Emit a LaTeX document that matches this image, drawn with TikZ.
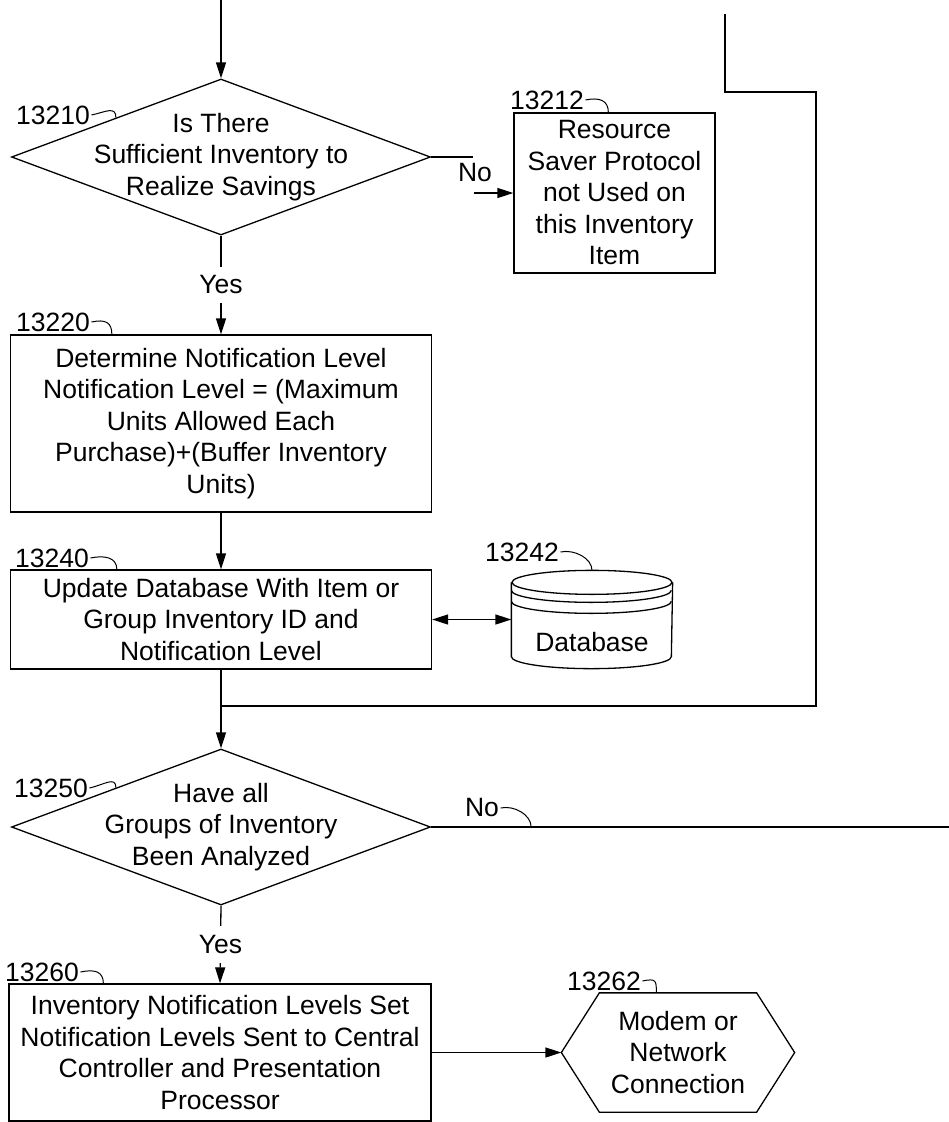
\documentclass[tikz,border=0pt]{standalone}
\usepackage{fontspec}
\setmainfont{Liberation Sans}
\usepackage{tikz}
\usetikzlibrary{arrows.meta}
\usetikzlibrary{shapes.geometric}
\usetikzlibrary{calc}
\tikzset{txt/.style = {align = center, inner sep = 0, font = \fontsize{26.5}{31.5}\selectfont}}
\tikzset{box/.style = {txt, draw, rectangle}}
\tikzset{decision/.style = {draw, diamond, inner sep = 0, minimum width = 419pt, minimum height = 156pt}}
\tikzset{tag/.style = {txt, inner sep = 1pt}}
\tikzset{answer/.style = {txt, fill = white, inner xsep = 2pt, inner ysep = 9pt}}

\begin{document}
\begin{tikzpicture}[x = 1pt, y = -1pt, line width = 1.3pt,
    > = {Triangle[length = 16pt, width = 10pt]}]
    \useasboundingbox (0, 0) rectangle (949, 1122);

    \node [decision] (d10) at (221, 157) {};
    \node [txt] at (d10) {Is There\\Sufficient Inventory to\\Realize Savings};
    \node [box, minimum width = 201pt, minimum height = 160pt] (b12) at (614.5, 193)
      {Resource\\Saver Protocol\\not Used on\\this Inventory\\Item};
    \node [box, minimum width = 421pt, minimum height = 177pt] (b20) at (221, 423.5)
      {Determine Notification Level\\Notification Level = (Maximum\\Units Allowed Each\\Purchase)+(Buffer Inventory\\Units)};
    \node [box, minimum width = 421pt, minimum height = 99pt] (b40) at (221, 619.5)
      {Update Database With Item or\\Group Inventory ID and\\Notification Level};
    \node [minimum width = 160pt, minimum height = 97pt, inner sep = 0] (db) at (592, 619.5) {};
    \node [txt] (dbname) at (592, 642) {Database};
    \node [decision] (d50) at (221, 827) {};
    \node [txt] at (d50) {Have all\\Groups of Inventory\\Been Analyzed};
    \node [box, minimum width = 422pt, minimum height = 137pt] (b60) at (220, 1052.5)
      {Inventory Notification Levels Set\\Notification Levels Sent to Central\\Controller and Presentation\\Processor};
    \node [txt, minimum width = 232pt, minimum height = 118pt] (hex) at (678, 1052.5)
      {Modem or\\Network\\Connection};

    % database drum
    \draw ($(db.north west) + (0, 12)$) -- ($(db.south west) + (0, -12)$)
      arc [start angle = 180, end angle = 360, x radius = 80pt, y radius = 12pt]
      -- ($(db.north east) + (0, 12)$);
    \draw ($(db.north) + (0, 12)$) ellipse [x radius = 80pt, y radius = 12pt];
    \draw ($(db.north west) + (0, 20)$) arc [start angle = 180, end angle = 360, x radius = 80pt, y radius = 12pt];
    \draw ($(db.north west) + (0, 31)$) arc [start angle = 180, end angle = 360, x radius = 80pt, y radius = 12pt];

    % hexagon
    \draw (hex.west) -- ($(hex.north west) + (38, 0)$) -- ($(hex.north east) + (-38, 0)$)
      -- (hex.east) -- ($(hex.south east) + (-38, 0)$) -- ($(hex.south west) + (38, 0)$) -- cycle;

    % reference numerals
    \node [tag] (t10) at (53, 115) {13210};
    \node [tag] (t12) at (547, 100) {13212};
    \node [tag] (t20) at (53, 322) {13220};
    \node [tag] (t40) at (52, 558) {13240};
    \node [tag] (t42) at (522, 552) {13242};
    \node [tag] (t50) at (51, 788) {13250};
    \node [tag] (t60) at (42, 972) {13260};
    \node [tag] (t62) at (604, 981) {13262};
    \node [tag] (no50) at (482, 808) {No};
    \draw [line width = 1pt] (t10.east) .. controls +(14, -3) and +(0, -12) .. (d10.north west);
    \draw [line width = 1pt] (t12.east) .. controls +(14, -3) and +(0, -12) .. ($(b12.north west) + (95, 0)$);
    \draw [line width = 1pt] (t20.east) .. controls +(14, -3) and +(0, -12) .. ($(b20.north west) + (102, 0)$);
    \draw [line width = 1pt] (t40.east) .. controls +(14, -3) and +(0, -12) .. ($(b40.north west) + (107, 0)$);
    \draw [line width = 1pt] (t42.east) .. controls +(14, -3) and +(0, -12) .. (db.north);
    \draw [line width = 1pt] (t50.east) .. controls +(14, -3) and +(0, -12) .. (d50.north west);
    \draw [line width = 1pt] (t60.east) .. controls +(14, -3) and +(0, -12) .. ($(b60.north west) + (95, 0)$);
    \draw [line width = 1pt] (t62.east) .. controls +(14, -3) and +(0, -12) .. ($(hex.north west) + (95, 0)$);
    \draw [line width = 1pt] (no50.east) .. controls +(14, -3) and +(0, -12) .. ($(d50.east) + (100, 0)$);

    % flow
    \coordinate (entry) at (221, 0);
    \coordinate (nostub) at (474, 193);
    \coordinate (loopin) at (725, 14);
    \coordinate (join) at (221, 706);
    \coordinate (exit) at (949, 827);
    \draw [->] (entry) -- (d10.north);
    \draw [->] (d10.south) -- node [answer] {Yes} (b20.north);
    \draw (d10.east) -- ++(42, 0);
    \node [txt] at (475, 173) {No};
    \draw [->] (nostub) -- (b12.west);
    \draw [->] (b20.south) -- (b40.north);
    \draw [<->] (b40.east) -- (db.west);
    \draw [->] (b40.south) -- (d50.north);
    \draw (loopin) |- (816, 92) |- (join);
    \draw (d50.east) -- (exit);
    \draw [->] (d50.south) -- node [answer] {Yes} (b60.north);
    \draw [->] (b60.east) -- (hex.west);
  \end{tikzpicture}
\end{document}
